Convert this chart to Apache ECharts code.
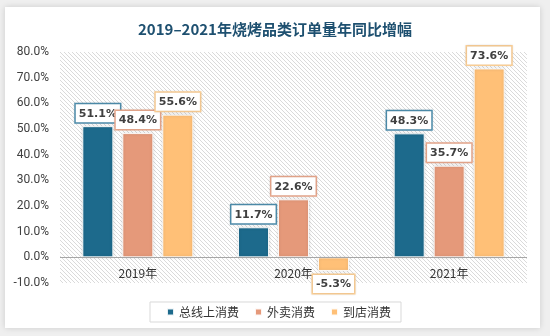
<!DOCTYPE html>
<html><head><meta charset="utf-8">
<script src="https://cdn.jsdelivr.net/npm/echarts@6/dist/echarts.min.js"></script>
<style>html,body{margin:0;padding:0;background:#efefef;}#c{width:550px;height:336px;}</style>
</head><body><div id="c"></div>
<script>
const categories = ['2019年', '2020年', '2021年'];
const seriesNames = ['总线上消费', '外卖消费', '到店消费'];
const online = [51.1, 11.7, 48.3];
const takeout = [48.4, 22.6, 35.7];
const instore = [55.6, -5.3, 73.6];
const yTicks = { min: -10, max: 80, interval: 10 };

const colors = ['#1d6a8c', '#e5997a', '#ffc077'];
const labelBorders = ['#4f8fae', '#eaa98e', '#fbcf96'];

const pat = document.createElement('canvas');
pat.width = 4; pat.height = 4;
const g = pat.getContext('2d');
g.fillStyle = '#ffffff'; g.fillRect(0, 0, 4, 4);
g.strokeStyle = '#dadada'; g.lineWidth = 1;
g.beginPath();
g.moveTo(-1, -1); g.lineTo(5, 5);
g.moveTo(-1, 3); g.lineTo(1, 5);
g.moveTo(3, -1); g.lineTo(5, 1);
g.stroke();

const chart = echarts.init(document.getElementById('c'));
function mk(name, vals, i) {
  const s = {
    name: name, type: 'bar', barWidth: 31, barGap: '29%',
    itemStyle: { color: colors[i], borderColor: 'rgba(255,255,255,0.9)', borderWidth: 1,
      shadowColor: 'rgba(0,0,0,0.18)', shadowBlur: 3 },
    label: {
      show: true, position: 'top', distance: 4,
      formatter: p => p.value.toFixed(1) + '%',
      color: '#404040', fontSize: 11, fontWeight: 'bold', fontFamily: 'DejaVu Sans',
      backgroundColor: '#fff', borderColor: labelBorders[i], borderWidth: 1.5,
      padding: [4, 3, 3, 3], shadowColor: 'rgba(0,0,0,0.12)', shadowBlur: 2
    },
    data: vals.map(v => v < 0 ? { value: v, label: { position: 'bottom' } } : v)
  };
  if (i === 0) {
    s.markLine = { silent: true, symbol: 'none', label: { show: false },
      lineStyle: { color: '#a6a6a6', width: 1, type: 'solid' }, data: [{ yAxis: 0 }] };
  }
  return s;
}
chart.setOption({
  animation: false,
  graphic: [{ type: 'rect', z: -10, shape: { x: 5, y: 7, width: 535, height: 321 },
    style: { fill: '#fff', shadowColor: 'rgba(0,0,0,0.15)', shadowBlur: 6 } }],
  title: {
    text: '2019–2021年烧烤品类订单量年同比增幅', left: 133, top: 17,
    textStyle: { color: '#1e5070', fontSize: 15, fontWeight: 'bold', fontFamily: 'Noto Sans CJK SC' }
  },
  grid: { left: 60, right: 23, top: 52, bottom: 53, show: true, borderWidth: 0,
    backgroundColor: { image: pat, repeat: 'repeat' } },
  legend: {
    data: seriesNames, bottom: 14, left: 150,
    borderColor: '#d9d9d9', borderWidth: 1, padding: [4, 10, 4, 16],
    itemWidth: 7, itemHeight: 7, itemGap: 15, icon: 'rect',
    textStyle: { color: '#333', fontSize: 12, fontFamily: 'Noto Sans CJK SC' }
  },
  xAxis: {
    type: 'category', data: categories, position: 'bottom',
    axisLine: { show: false, onZero: false },
    axisTick: { show: false },
    axisLabel: { color: '#333', fontSize: 12, margin: -16, fontFamily: 'Noto Sans CJK SC' }
  },
  yAxis: {
    type: 'value', min: yTicks.min, max: yTicks.max, interval: yTicks.interval,
    splitLine: { show: false }, axisLine: { show: false }, axisTick: { show: false },
    axisLabel: { color: '#404040', fontSize: 12, margin: 11, fontFamily: 'Roboto',
      formatter: v => v.toFixed(1) + '%' }
  },
  series: [mk(seriesNames[0], online, 0), mk(seriesNames[1], takeout, 1), mk(seriesNames[2], instore, 2)]
});
</script></body></html>
